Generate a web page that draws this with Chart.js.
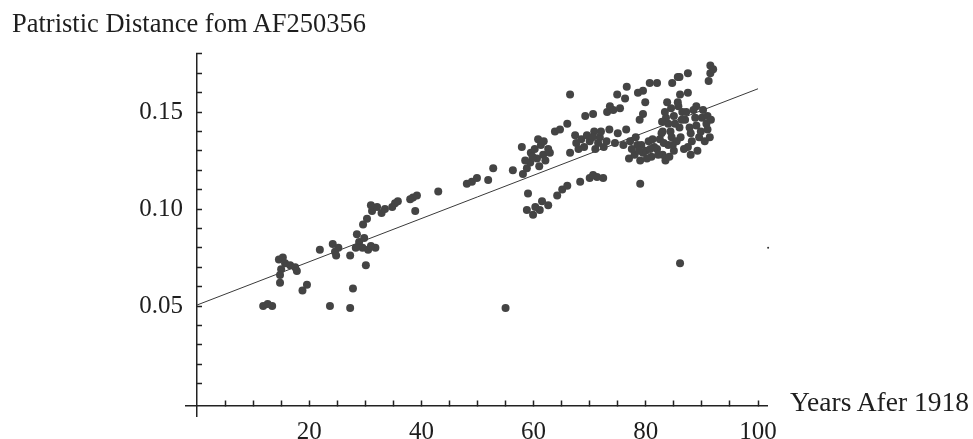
<!DOCTYPE html>
<html><head><meta charset="utf-8">
<script src="https://cdn.jsdelivr.net/npm/chart.js@4.4.1/dist/chart.umd.min.js"></script>
<style>
html,body{margin:0;padding:0;background:#fff;}
#wrap{position:relative;width:973px;height:439px;overflow:hidden;}
canvas{position:absolute;left:0;top:0;}
.lbl{position:absolute;font-family:"Liberation Serif",serif;color:#1e1e1e;white-space:pre;line-height:26px;}
</style></head><body>
<div id="wrap">
<canvas id="c" width="973" height="439"></canvas>
<div class="lbl" id="title" style="left:12px;top:10px;font-size:26.5px;">Patristic Distance fom AF250356</div>
<div class="lbl" id="xlabel" style="left:790px;top:389px;font-size:27.5px;">Years Afer 1918</div>
</div>
<script>
// ---- data ----
const yearsAfter1918 = [
 11.8,12.6,13.4,14.6,15.3,15.7,16.6,17.5,15.0,14.8,14.8,18.8,19.6,17.8,
 21.9,23.7,24.2,24.6,25.2,24.8,27.3,27.8,27.3,28.5,28.9,29.5,30.5,31.8,28.3,29.8,31.0,30.1,
 29.6,30.3,31.2,32.1,32.9,31.0,33.5,34.8,35.3,35.8,38.0,38.5,39.2,38.9,43.0,
 48.1,49.0,49.9,51.9,52.8,55.0,
 56.3,57.9,58.1,58.8,59.4,60.6,61.7,62.6,62.9,60.8,63.8,64.7,66.0,66.5,69.2,70.6,
 66.5,67.4,68.5,70.0,71.0,69.0,67.6,59.5,61.0,
 59.8,60.2,61.3,62.1,58.5,61.8,
 68.0,69.5,70.8,71.8,72.5,
 59.0,58.8,59.9,61.1,62.6,60.3,61.5,64.2,65.1,66.0,68.3,70.0,71.3,72.4,70.6,79.0,
 73.1,73.6,74.2,75.4,74.9,76.3,76.6,78.6,79.5,80.7,82.0,84.7,85.7,87.5,86.0,87.5,86.1,85.7,
 79.9,79.5,78.9,91.5,91.5,91.2,92.0,
 70.5,72.0,73.5,75.0,76.5,71.5,73.0,74.5,76.0,
 77.0,78.0,79.0,80.0,81.0,82.0,83.0,84.0,78.5,80.5,82.5,77.5,79.5,81.5,83.5,
 77.2,78.2,79.2,80.2,81.2,82.2,83.2,84.2,80.8,78.8,82.8,84.6,
 83.0,84.0,85.0,86.0,87.0,88.0,89.0,90.0,85.5,87.5,89.5,91.0,84.5,86.5,88.5,90.5,85.0,88.0,91.0,89.0,
 83.6,84.4,85.2,86.2,86.8,87.2,87.8,88.2,88.8,89.2,89.8,90.2,90.8,91.4,91.6,85.8,84.8,86.4,
 83.4,83.8,82.9,
 86.1
];
const patristicDistance = [
 0.050,0.051,0.050,0.074,0.075,0.072,0.071,0.070,0.069,0.066,0.062,0.058,0.061,0.068,
 0.079,0.050,0.082,0.078,0.080,0.076,0.049,0.059,0.076,0.087,0.083,0.080,0.079,0.080,0.080,0.085,0.081,0.071,
 0.092,0.095,0.099,0.101,0.098,0.102,0.100,0.101,0.103,0.104,0.105,0.106,0.107,0.099,0.109,
 0.113,0.114,0.116,0.115,0.121,0.049,
 0.120,0.132,0.118,0.121,0.124,0.126,0.128,0.131,0.129,0.136,0.140,0.141,0.144,0.159,0.148,0.149,
 0.129,0.138,0.136,0.135,0.131,0.132,0.134,0.129,0.122,
 0.127,0.131,0.133,0.125,0.125,0.135,
 0.131,0.138,0.140,0.137,0.132,
 0.108,0.0995,0.097,0.0995,0.102,0.101,0.104,0.107,0.110,0.112,0.114,0.116,0.1165,0.116,0.1175,0.113,
 0.150,0.153,0.151,0.152,0.159,0.157,0.163,0.160,0.161,0.165,0.165,0.165,0.168,0.170,0.168,0.160,0.159,0.155,
 0.155,0.149,0.146,0.174,0.170,0.166,0.172,
 0.137,0.140,0.141,0.139,0.141,0.134,0.135,0.134,0.133,
 0.126,0.128,0.125,0.130,0.127,0.131,0.128,0.133,0.133,0.135,0.136,0.131,0.129,0.132,0.125,
 0.135,0.137,0.133,0.126,0.136,0.128,0.134,0.127,0.131,0.130,0.139,0.137,
 0.140,0.144,0.148,0.142,0.146,0.139,0.143,0.147,0.135,0.132,0.137,0.141,0.152,0.150,0.151,0.135,0.130,0.128,0.148,0.153,
 0.147,0.140,0.144,0.137,0.131,0.150,0.142,0.135,0.147,0.130,0.140,0.151,0.144,0.137,0.146,0.153,0.133,0.146,
 0.150,0.155,0.145,
 0.072
];
const fitYears = [0, 100];
const fitDistance = [0.0505, 0.162];
const strayYears = [101.8];
const strayDistance = [0.080];

const xTickValues = [5,10,15,20,25,30,35,40,45,50,55,60,65,70,75,80,85,90,95,100];
const xTickLabels = ['','','','20','','','','40','','','','60','','','','80','','','','100'];
const yTickValues = [0.01,0.02,0.03,0.04,0.05,0.06,0.07,0.08,0.09,0.10,0.11,0.12,0.13,0.14,0.15,0.16,0.17,0.18];
const yLabelValues = [0.05,0.10,0.15];
const yTickLabels = ['0.05','0.10','0.15'];

// ---- chart ----
const toPts = (xs, ys) => xs.map((x, i) => ({x: x, y: ys[i]}));
const ink = '#222';
const tickFont = {family: 'Liberation Serif', size: 25};
const yMin = -0.0067, yMax = 0.1794, xMin = -1.96, xMax = 101.6;

new Chart(document.getElementById('c'), {
  type: 'scatter',
  data: {
    datasets: [
      {data: toPts(yearsAfter1918, patristicDistance), backgroundColor: '#444', borderWidth: 0,
       pointRadius: 4, pointHoverRadius: 4, pointStyle: 'circle'},
      {type: 'line', data: toPts(fitYears, fitDistance), borderColor: '#3a3a3a', borderWidth: 1,
       pointRadius: 0, fill: false, tension: 0},
      {data: toPts(strayYears, strayDistance), backgroundColor: '#333', borderWidth: 0,
       pointRadius: 1, clip: false}
    ]
  },
  options: {
    responsive: false, animation: false, devicePixelRatio: 1,
    layout: {padding: {left: 186, right: 206, top: 55, bottom: 23}},
    plugins: {legend: {display: false}, tooltip: {enabled: false}, title: {display: false}},
    scales: {
      x: {
        type: 'linear', min: xMin, max: xMax, position: {y: -0.0015},
        border: {display: true, color: ink, width: 1.5},
        grid: {display: true, drawOnChartArea: false, drawTicks: true, tickLength: -6, tickColor: ink, tickWidth: 1.5, color: ink},
        afterBuildTicks: s => { s.ticks = xTickValues.map(v => ({value: v})); },
        ticks: {autoSkip: false, maxRotation: 0, minRotation: 0, padding: 18, color: '#1e1e1e', font: tickFont,
          callback: (v, i) => xTickLabels[i]}
      },
      y: {
        type: 'linear', min: yMin, max: yMax, position: {x: 0},
        border: {display: true, color: ink, width: 1.5},
        grid: {display: true, drawOnChartArea: false, drawTicks: true, tickLength: -6, tickColor: ink, tickWidth: 1.5, color: ink},
        afterBuildTicks: s => { s.ticks = yTickValues.map(v => ({value: v})); },
        ticks: {display: false}
      },
      yl: {
        type: 'linear', min: yMin, max: yMax, position: {x: -2.5},
        border: {display: false}, grid: {display: false},
        afterBuildTicks: s => { s.ticks = yLabelValues.map(v => ({value: v})); },
        ticks: {autoSkip: false, color: '#1e1e1e', font: tickFont, callback: (v, i) => yTickLabels[i]}
      }
    }
  }
});
</script>
</body></html>
